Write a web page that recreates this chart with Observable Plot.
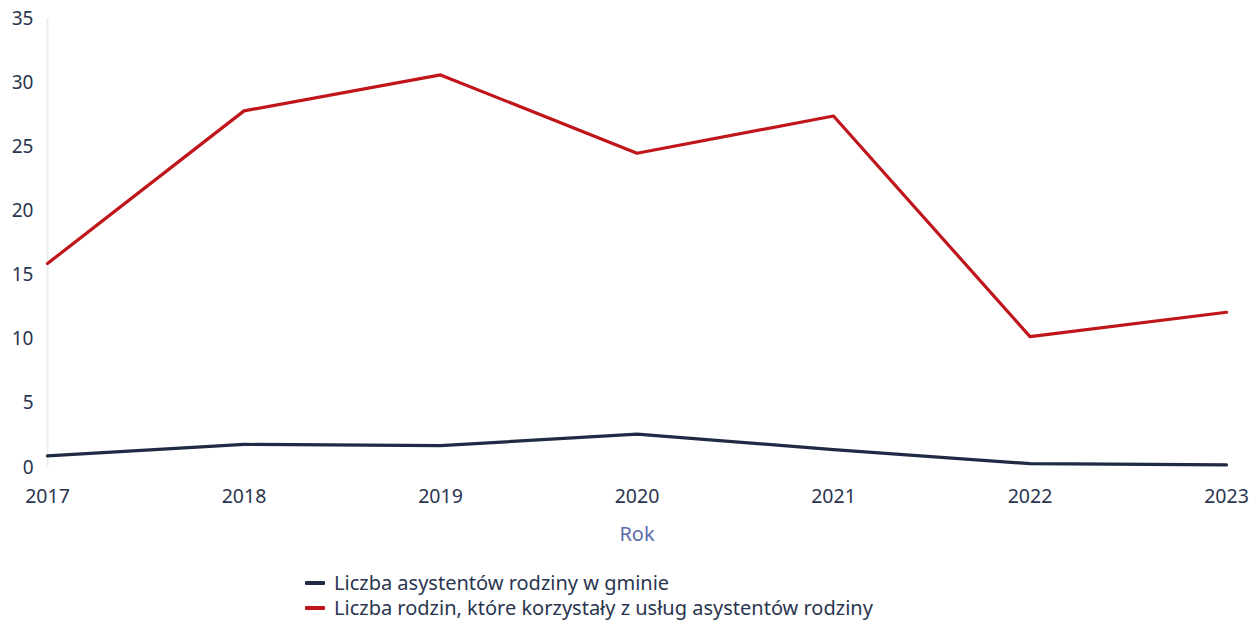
<!DOCTYPE html>
<html>
<head>
<meta charset="utf-8">
<script src="https://cdn.jsdelivr.net/npm/d3@7"></script>
<script src="https://cdn.jsdelivr.net/npm/@observablehq/plot@0.6"></script>
<style>
  body { margin: 0; background: #fff; font-family: "Noto Sans", "Open Sans", sans-serif; }
  #chart svg { display: block; }
  .legend { margin-left: 305px; padding-top: 10px; color: #2a3550; font-size: 20px; }
  .legend .row { display: flex; align-items: center; height: 25px; }
  .legend .sw { width: 20px; height: 4px; margin-right: 9px; border-radius: 1px; }
</style>
</head>
<body>
<div id="chart"></div>
<div class="legend" id="legend"></div>
<script>
const years = [2017, 2018, 2019, 2020, 2021, 2022, 2023];
const seriesNames = [
  "Liczba asystentów rodziny w gminie",
  "Liczba rodzin, które korzystały z usług asystentów rodziny"
];
const assistants = [0.9, 1.8, 1.7, 2.6, 1.4, 0.3, 0.2];
const families = [15.9, 27.8, 30.6, 24.5, 27.4, 10.2, 12.1];
const yTicks = [0, 5, 10, 15, 20, 25, 30, 35];
const xAxisLabel = "Rok";
const colors = ["#1f2a44", "#c0161b"];

const data = [];
years.forEach((y, i) => {
  data.push({year: y, value: assistants[i], series: seriesNames[0]});
  data.push({year: y, value: families[i], series: seriesNames[1]});
});

const chart = Plot.plot({
  width: 1256,
  height: 560,
  marginLeft: 47,
  marginRight: 30,
  marginTop: 18,
  marginBottom: 93,
  style: {fontFamily: "'Noto Sans', 'Open Sans', sans-serif", fontSize: "19px", color: "#2a3550", background: "#fff"},
  x: {domain: [2017, 2023], ticks: years, tickFormat: "d"},
  y: {domain: [0, 35], ticks: yTicks},
  color: {domain: seriesNames, range: colors},
  marks: [
    Plot.ruleX([2017], {stroke: "#eeeeee", strokeWidth: 2, y1: 0, y2: 35}),
    Plot.axisY({ticks: yTicks, tickSize: 0, tickPadding: 14, label: null, fill: "#2a3550", fontSize: 19}),
    Plot.axisX({ticks: years, tickFormat: "d", tickSize: 0, tickPadding: 22, label: null, fill: "#2a3550", fontSize: 19.5}),
    Plot.line(data, {x: "year", y: "value", z: "series", stroke: "series", strokeWidth: 3.2}),
    Plot.text([xAxisLabel], {frameAnchor: "bottom", dy: 73, fill: "#5b6cab", fontSize: 20})
  ]
});
document.getElementById("chart").appendChild(chart);

const legend = document.getElementById("legend");
seriesNames.forEach((name, i) => {
  const row = document.createElement("div");
  row.className = "row";
  const sw = document.createElement("span");
  sw.className = "sw";
  sw.style.background = colors[i];
  const t = document.createElement("span");
  t.textContent = name;
  row.appendChild(sw);
  row.appendChild(t);
  legend.appendChild(row);
});
</script>
</body>
</html>
